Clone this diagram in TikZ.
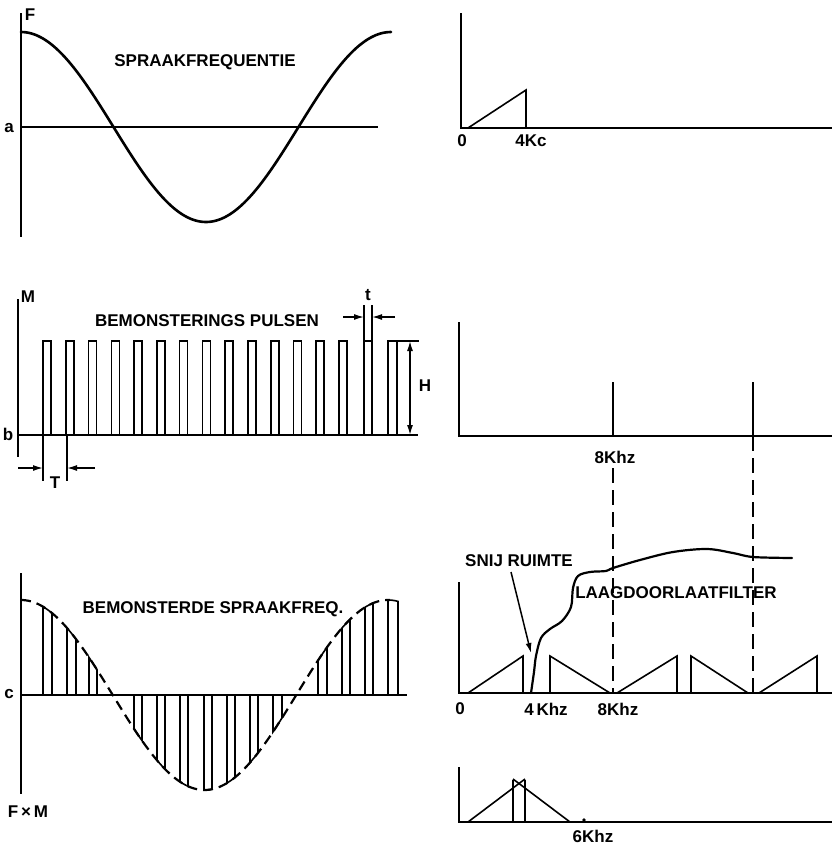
\documentclass[tikz,border=0pt]{standalone}
\usepackage{fontspec}
\setmainfont{Liberation Sans}
\usetikzlibrary{arrows.meta}
\begin{document}
\begin{tikzpicture}[x=1pt,y=-1pt,
  ax/.style={line width=2pt},
  crv/.style={line width=2.6pt, line join=round, line cap=round},
  pl/.style={line width=1.6pt, line join=miter},
  lbl/.style={font=\bfseries\fontsize{17}{17}\selectfont, inner sep=0pt},
  vdash/.style={line width=1.8pt, dash pattern=on 15pt off 7pt},
  dimarrow/.style={line width=1.4pt, -{Latex[length=10pt,width=6pt]}},
  dimboth/.style={line width=1.4pt, {Latex[length=10pt,width=6pt]}-{Latex[length=10pt,width=6pt]}}]
\useasboundingbox (0,0) rectangle (832,847);

% ---------- panel 1: spraakfrequentie ----------
\draw[ax] (21,13) -- (21,237);
\draw[ax] (21,127) -- (378,127);
\draw[crv] plot[domain=21:391, samples=150] (\x, {127-95*cos(((\x-21)/370)*360)});
\node[lbl] (lF) at (30,15) {F};
\node[lbl] (la) at (9,128) {a};
\node[lbl] (t1) at (205,62) {SPRAAKFREQUENTIE};

% ---------- panel 2: spectrum 0-4Kc ----------
\draw[ax] (461,13) -- (461,128) -- (832,128);
\draw[pl] (468,128) -- (526,90) -- (526,128);
\node[lbl] (l0a) at (462,141) {0};
\node[lbl] (l4kc) at (531,141) {4Kc};

% ---------- panel 3: bemonsterings pulsen ----------
\draw[ax] (18,299) -- (18,457);
\draw[ax] (18,435) -- (418,435);
\foreach \i in {0,...,13} {
  \pgfmathsetmacro\a{43+22.77*\i}
  \draw[pl] (\a,435) -- (\a,341) -- (\a+8,341) -- (\a+8,435);
}
\draw[pl] (364,435) -- (364,341) -- (372,341) -- (372,435);
\draw[pl] (364,341) -- (364,305);
\draw[pl] (372,341) -- (372,305);
\coordinate (tl0) at (343,317); \coordinate (tl1) at (364,317);
\coordinate (tr0) at (395,317); \coordinate (tr1) at (372,317);
\draw[dimarrow] (tl0) -- (tl1);
\draw[dimarrow] (tr0) -- (tr1);
\node[lbl] (lt) at (368,295) {t};
\draw[pl] (388,435) -- (388,341) -- (397,341) -- (397,435);
\draw[pl] (397,341) -- (419,341);
\coordinate (h0) at (410,341); \coordinate (h1) at (410,435);
\draw[dimboth] (h0) -- (h1);
\node[lbl] (lH) at (425,386) {H};
\draw[pl] (43,435) -- (43,481);
\draw[pl] (67,435) -- (67,481);
\coordinate (T0) at (18,468); \coordinate (T1) at (43,468);
\coordinate (T2) at (95,468); \coordinate (T3) at (67,468);
\draw[dimarrow] (T0) -- (T1);
\draw[dimarrow] (T2) -- (T3);
\node[lbl] (lT) at (55,483) {T};
\node[lbl] (lM) at (28,297) {M};
\node[lbl] (lb) at (8,434) {b};
\node[lbl] (t2) at (207,321) {BEMONSTERINGS PULSEN};

% ---------- panel 4: lines at 8Khz ----------
\draw[ax] (459,322) -- (459,436) -- (832,436);
\draw[pl] (613,382) -- (613,436);
\draw[pl] (753,382) -- (753,436);
\node[lbl] (l8a) at (615,457) {8Khz};
\draw[vdash] (613,468) -- (613,693);
\draw[vdash] (753,436) -- (753,693);

% ---------- panel 5: spectrum with filter ----------
\draw[ax] (459,582) -- (459,693) -- (832,693);
\draw[pl] (468,693) -- (523,656) -- (523,693);
\draw[pl] (550,693) -- (550,656) -- (610,693);
\draw[pl] (617,693) -- (677,656) -- (677,693);
\draw[pl] (691,693) -- (691,656) -- (748,693);
\draw[pl] (759,693) -- (817,656) -- (817,693);
\draw[crv, line width=2.2pt] plot[smooth, tension=0.55] coordinates {
  (531,693) (534,672) (536,656) (541,638) (550,629) (562,621) (571,607)
  (573,588) (578,576) (590,572) (606,571) (613,568) (640,560) (673,552)
  (707,549) (733,553) (753,557) (792,558)};
\node[lbl] (lsnij) at (519,561) {SNIJ RUIMTE};
\coordinate (sn0) at (511,572); \coordinate (sn1) at (531,653);
\draw[line width=1.5pt, -{Latex[length=10pt,width=6pt]}] (sn0) -- (sn1);
\node[lbl] (lfilt) at (676,593) {LAAGDOORLAATFILTER};
\node[lbl] (l0b) at (460,709) {0};
\node[lbl] (l4k) at (546,709) {4\,Khz};
\node[lbl] (l8b) at (618,709) {8Khz};

% ---------- panel 6: 6Khz ----------
\draw[ax] (459,767) -- (459,822) -- (832,822);
\draw[pl] (468,822) -- (525,779);
\draw[pl] (570,822) -- (513,779);
\draw[pl] (513,822) -- (513,780);
\draw[pl] (525,822) -- (525,780);
\fill (584,820) circle (1.8pt);
\node[lbl] (l6k) at (593,836) {6Khz};

% ---------- panel 7: bemonsterde spraakfreq ----------
\draw[ax] (21,573) -- (21,794);
\draw[ax] (21,695) -- (407,695);
\draw[crv, line width=2.2pt, line cap=butt, dash pattern=on 10pt off 6pt] plot[domain=21:390, samples=150] (\x, {695-95*cos(((\x-21)/367)*360)});
\foreach \a/\b in {43/52, 67/76, 89/97, 134/142, 157/165, 180/188, 204/212, 227/235, 250/258, 273/282, 318/327, 342/350, 365/373, 388/398} {
  \draw[pl] (\a,695) -- plot[domain=\a:\b, samples=6] (\x, {695-95*cos(((\x-21)/367)*360)}) -- (\b,695);
}
\node[lbl] (lc) at (9,694) {c};
\node[lbl] (lFM) at (28,812) {F\,×\,M};
\node[lbl] (t3) at (213,609) {BEMONSTERDE SPRAAKFREQ.};
\end{tikzpicture}
\end{document}
